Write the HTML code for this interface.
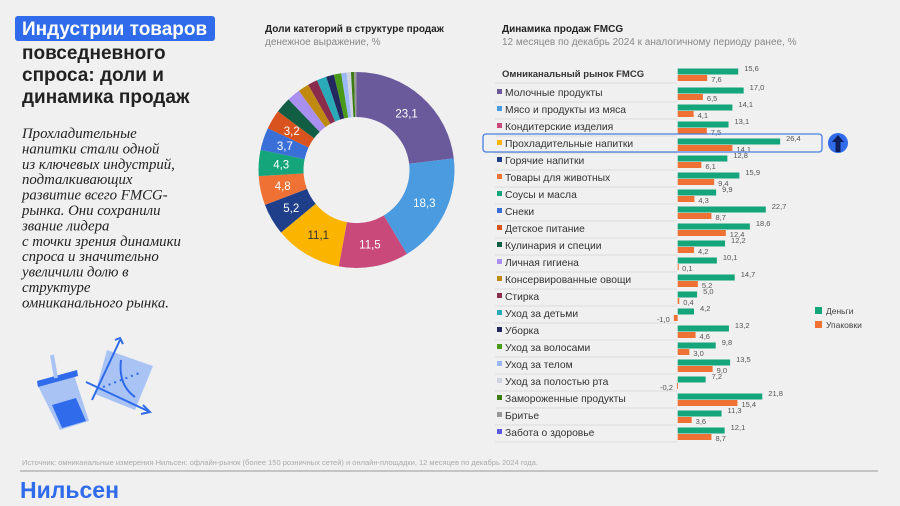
<!DOCTYPE html>
<html><head><meta charset="utf-8"><style>
body{margin:0;background:#f0f0f0;width:900px;height:506px;overflow:hidden;font-family:"Liberation Sans",sans-serif}
</style></head><body>
<svg id="s" width="900" height="506" xmlns="http://www.w3.org/2000/svg" style="position:absolute;left:0;top:0">
<rect width="900" height="506" fill="#f0f0f0"/>
<rect x="15" y="16" width="200" height="25" rx="3" fill="#2f6bea"/>
<g font-family="Liberation Sans, sans-serif" font-weight="bold" font-size="19" fill="#222">
<text x="22" y="35" fill="#fff">Индустрии товаров</text>
<text x="22" y="59">повседневного</text>
<text x="22" y="81">спроса: доли и</text>
<text x="22" y="103">динамика продаж</text>
</g>
<g font-family="Liberation Serif, serif" font-style="italic" font-size="14.8" fill="#222">
<text x="22" y="138">Прохладительные</text>
<text x="22" y="153.4">напитки стали одной</text>
<text x="22" y="168.8">из ключевых индустрий,</text>
<text x="22" y="184.2">подталкивающих</text>
<text x="22" y="199.6">развитие всего FMCG-</text>
<text x="22" y="215">рынка. Они сохранили</text>
<text x="22" y="230.4">звание лидера</text>
<text x="22" y="245.8">с точки зрения динамики</text>
<text x="22" y="261.2">спроса и значительно</text>
<text x="22" y="276.6">увеличили долю в</text>
<text x="22" y="292">структуре</text>
<text x="22" y="307.4">омниканального рынка.</text>
</g>
<g>
<polygon points="37,384 74,375 89,421 60,430" fill="#a9c3f5"/>
<polygon points="52,405 76,398 86,421 62,428" fill="#2f6bea"/>
<polygon points="37,381 77,370 78,376 38,387" fill="#2f6bea"/>
<line x1="56" y1="378" x2="52" y2="355" stroke="#a9c3f5" stroke-width="4"/>
<polygon points="107,350 153,366 135,410 95,394" fill="#a9c3f5"/>
<line x1="92" y1="400" x2="120" y2="340" stroke="#2f6bea" stroke-width="2"/>
<line x1="86" y1="382" x2="150" y2="412" stroke="#2f6bea" stroke-width="2"/>
<path d="M115,340 L120,338 L123,344 M143,405 L150,412 L141,414" fill="none" stroke="#2f6bea" stroke-width="2"/>
<path d="M121,360 Q118,385 135,397" fill="none" stroke="#2f6bea" stroke-width="2"/>
<line x1="103" y1="387" x2="142" y2="372" stroke="#2f6bea" stroke-width="2" stroke-dasharray="2,4"/>
</g>
<text x="22" y="465" font-size="7.5" fill="#aaa">Источник: омниканальные измерения Нильсен: офлайн-рынок (более 150 розничных сетей) и онлайн-площадки, 12 месяцев по декабрь 2024 года.</text>
<line x1="20" y1="471" x2="878" y2="471" stroke="#999" stroke-width="1"/>
<text x="20" y="498" font-size="23" font-weight="bold" fill="#2f6bea">Нильсен</text>
<g font-size="10">
<text x="265" y="32" font-weight="bold" fill="#222">Доли категорий в структуре продаж</text>
<text x="265" y="45" fill="#888">денежное выражение, %</text>
</g>
<g font-size="10">
<text x="502" y="32" font-weight="bold" fill="#222">Динамика продаж FMCG</text>
<text x="502" y="45" fill="#888">12 месяцев по декабрь 2024 к аналогичному периоду ранее, %</text>
</g>
<g id="donut"></g>
<g id="bars"></g>
<rect x="483" y="134" width="339" height="18" rx="3" fill="none" stroke="#4a7de0" stroke-width="1.3"/>
<circle cx="838" cy="143" r="10" fill="#2f6bea"/>
<path d="M838,135 L844,142 L840.5,142 L840.5,152 L835.5,152 L835.5,142 L832,142 Z" fill="#0f1f5a"/>
<g font-size="8.5" fill="#444">
<rect x="815" y="307" width="7" height="7" fill="#14a57a"/>
<text x="826" y="314">Деньги</text>
<rect x="815" y="321" width="7" height="7" fill="#ef7234"/>
<text x="826" y="328">Упаковки</text>
</g>
</svg>
<script>
const shares=[23.1,18.3,11.5,11.1,5.2,4.8,4.3,3.7,3.2,2.6,2.2,1.8,1.6,1.6,1.3,1.2,0.9,0.7,0.5,0.4];
const shareColors=["#6a5a9c","#4a9be0","#c8497a","#fbb400","#1f3f8a","#ef7234","#14a57a","#3a6fd8","#d9531e","#125e45","#a990f0","#c08a10","#8a2c4c","#2aaab8","#23285e","#4a9a1a","#9ab8f8","#d0d4e0","#3a7a10","#999999"];
const shareLabelMin=3;
const categories=["Омниканальный рынок FMCG","Молочные продукты","Мясо и продукты из мяса","Кондитерские изделия","Прохладительные напитки","Горячие напитки","Товары для животных","Соусы и масла","Снеки","Детское питание","Кулинария и специи","Личная гигиена","Консервированные овощи","Стирка","Уход за детьми","Уборка","Уход за волосами","Уход за телом","Уход за полостью рта","Замороженные продукты","Бритье","Забота о здоровье"];
const moneyValues=[15.6,17.0,14.1,13.1,26.4,12.8,15.9,9.9,22.7,18.6,12.2,10.1,14.7,5.0,4.2,13.2,9.8,13.5,7.2,21.8,11.3,12.1];
const packValues=[7.6,6.5,4.1,7.5,14.1,6.1,9.4,4.3,8.7,12.4,4.2,0.1,5.2,0.4,-1.0,4.6,3.0,9.0,-0.2,15.4,3.6,8.7];
const markerColors=[null,"#6a5a9c","#4a9be0","#c8497a","#fbb400","#1f3f8a","#ef7234","#14a57a","#3a6fd8","#d9531e","#125e45","#a990f0","#c08a10","#8a2c4c","#2aaab8","#23285e","#4a9a1a","#9ab8f8","#d0d4e0","#3a7a10","#999999","#5a5ae0"];
const NS="http://www.w3.org/2000/svg";
function mk(t,a,p){const e=document.createElementNS(NS,t);for(const k in a)e.setAttribute(k,a[k]);p.appendChild(e);return e;}
const cx=356.5,cy=170,R=98,r=53,total=shares.reduce((a,b)=>a+b,0);
const dg=document.getElementById('donut');let ang=0;
shares.forEach((v,i)=>{const a0=ang/total*2*Math.PI,a1=(ang+v)/total*2*Math.PI;ang+=v;
const P=(rr,a)=>[cx+rr*Math.sin(a),cy-rr*Math.cos(a)];const lg=(a1-a0)>Math.PI?1:0;
const [x0,y0]=P(R,a0),[x1,y1]=P(R,a1),[x2,y2]=P(r,a1),[x3,y3]=P(r,a0);
const p=mk('path',{d:`M${x0},${y0}A${R},${R} 0 ${lg} 1 ${x1},${y1}L${x2},${y2}A${r},${r} 0 ${lg} 0 ${x3},${y3}Z`,fill:shareColors[i]},dg);


if(v>=shareLabelMin){const am=(a0+a1)/2;const [tx,ty]=P((R+r)/2,am);
const t=mk('text',{x:tx,y:ty+4,'text-anchor':'middle','font-size':11.5,fill:(i==3?'#333':'#fff')},dg);t.textContent=v.toFixed(1).replace('.',',');

}
});
const bg=document.getElementById('bars');const x0=677.7,sc=3.88,y0=73,pitch=17;
const xs=v=>x0+v*sc;const fmt=v=>v.toFixed(1).replace('.',',');
categories.forEach((c,i)=>{const yc=i==0?y0:92+(i-1)*pitch;
if(markerColors[i]){const m=mk('rect',{x:497,y:yc-3,width:5,height:5,fill:markerColors[i]},bg);

}
const t=mk('text',{x:i==0?502:505,y:yc+4,'font-size':i==0?9.5:10.3,'font-weight':i==0?'bold':'normal',fill:'#333'},bg);t.textContent=c;


const ln=mk('line',{x1:495,x2:677,y1:yc+10,y2:yc+10,stroke:'#ddd','stroke-width':1},bg);


const gv=moneyValues[i],ov=packValues[i];
const gb=mk('rect',{x:Math.min(xs(0),xs(gv)),y:yc-4.5,width:Math.abs(xs(gv)-xs(0)),height:6,fill:'#14a57a'},bg);


const ob=mk('rect',{x:Math.min(xs(0),xs(ov)),y:yc+2,width:Math.max(1,Math.abs(xs(ov)-xs(0))),height:6,fill:'#ef7234'},bg);


const gl=mk('text',{x:xs(gv)+6,y:yc-2,'font-size':7.5,fill:'#555'},bg);gl.textContent=fmt(gv);


const ol=mk('text',{x:ov<0?xs(ov)-4:xs(Math.max(ov,0))+4,y:yc+9,'font-size':7.5,fill:'#555','text-anchor':ov<0?'end':'start'},bg);ol.textContent=fmt(ov);


});
</script>
</body></html>
